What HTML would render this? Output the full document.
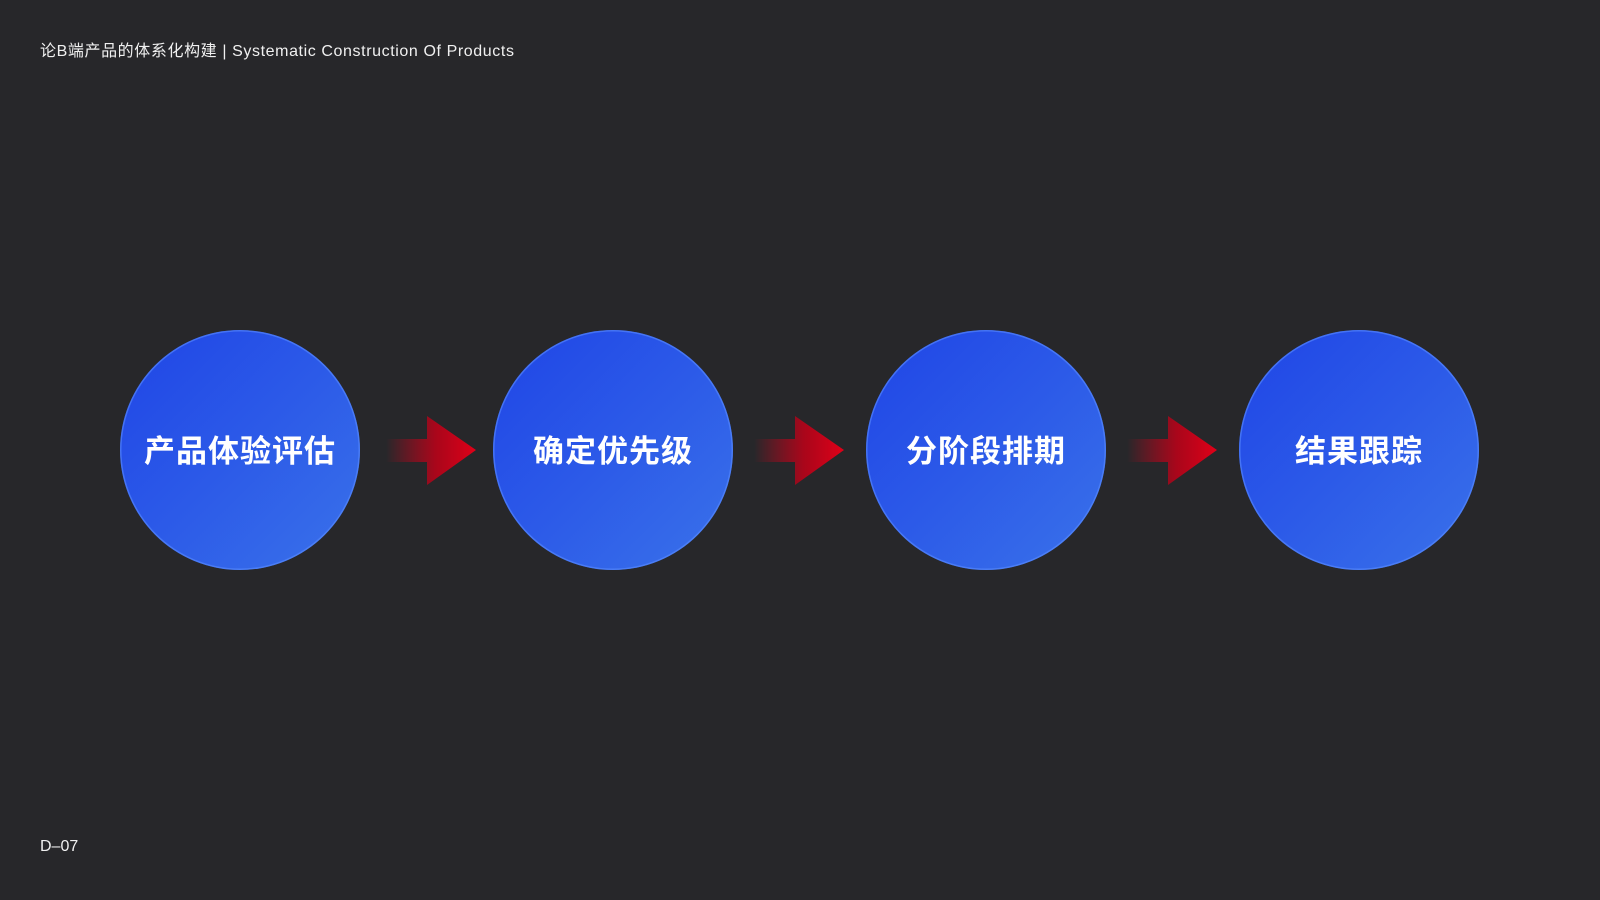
<!DOCTYPE html>
<html><head><meta charset="utf-8"><style>
body{margin:0;width:1600px;height:900px;background:#27272a;position:relative;overflow:hidden;font-family:"Liberation Sans","Noto Sans CJK SC",sans-serif;color:#fff}
.h{position:absolute;left:40px;top:37px;font-size:16px;color:#f0f0f0;letter-spacing:0.6px}
.f{position:absolute;left:40px;top:838px;font-size:16px;color:#f0f0f0}
.c{position:absolute;top:330px;width:240px;height:240px;border-radius:50%;background:linear-gradient(135deg,#1f45e6 0%,#2c5ae8 50%,#3a72ea 100%);box-shadow:inset 0 0 0 1.5px rgba(90,140,255,.6);display:flex;align-items:center;justify-content:center;font-size:31px;font-weight:bold;letter-spacing:1px;padding-bottom:4px;box-sizing:border-box}
svg{position:absolute;left:0;top:0}
</style></head><body>
<div class="h">论B端产品的体系化构建 | Systematic Construction Of Products</div>
<div class="c" style="left:120px">产品体验评估</div>
<div class="c" style="left:493px">确定优先级</div>
<div class="c" style="left:866px">分阶段排期</div>
<div class="c" style="left:1239px">结果跟踪</div>
<svg width="1600" height="900">
<defs><linearGradient id="g" x1="0" x2="1"><stop offset="0" stop-color="#d0021b" stop-opacity="0"/><stop offset=".55" stop-color="#c00018" stop-opacity=".85"/><stop offset="1" stop-color="#e00018"/></linearGradient></defs>
<g fill="url(#g)">
<path d="M386 439H427V416L476 450L427 485V462H386Z"/>
<path d="M754 439H795V416L844 450L795 485V462H754Z"/>
<path d="M1127 439H1168V416L1217 450L1168 485V462H1127Z"/>
</g></svg>
<div class="f">D–07</div>
</body></html>
